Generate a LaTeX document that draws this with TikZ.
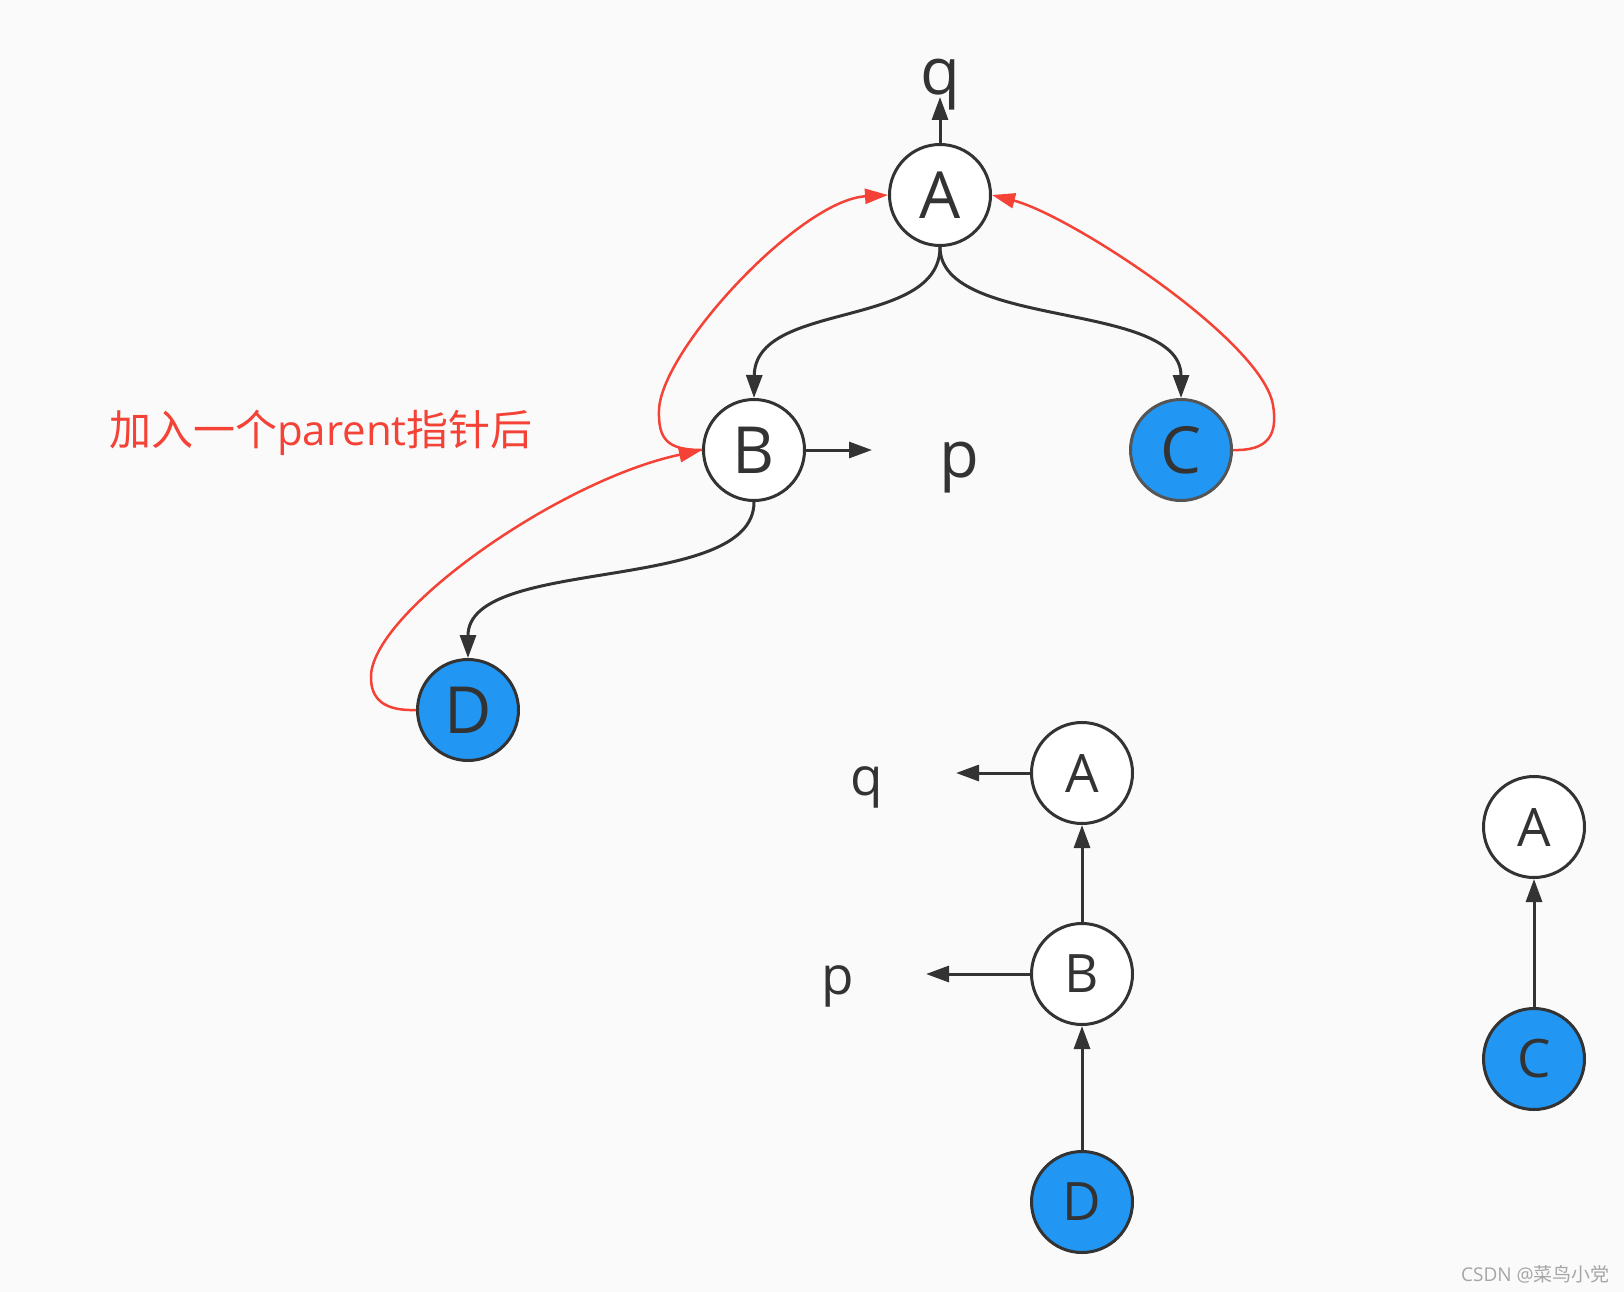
\documentclass[tikz,border=0pt]{standalone}
\usepackage{fontspec}
\setmainfont{Open Sans}
\newfontfamily\cjk{Noto Sans CJK SC}
\usetikzlibrary{arrows.meta}
\definecolor{bg}{HTML}{FAFAFA}
\definecolor{dk}{HTML}{333333}
\definecolor{cg}{HTML}{555555}
\definecolor{bl}{HTML}{2196F3}
\definecolor{rd}{HTML}{F44336}
\begin{document}
\begin{tikzpicture}[x=1pt,y=-1pt,
 nd/.style={circle, draw=dk, line width=3pt, fill=white, minimum size=101pt, inner sep=0pt, text=dk},
 big/.style={font=\fontsize{65}{65}\selectfont},
 small/.style={font=\fontsize{53}{53}\selectfont},
 bluefill/.style={fill=bl},
 edge/.style={draw=dk, line width=3pt, -{Triangle[length=23pt,width=16pt]}},
 redge/.style={draw=rd, line width=2.5pt, -{Triangle[length=23pt,width=15pt]}},
 lbl/.style={text=dk, inner sep=0pt}]
\fill[bg] (0,0) rectangle (1624,1292);
% top tree
\node[nd,big] (A) at (940,195) {A};
\node[nd,big] (B) at (754,450) {B};
\node[nd,big,bluefill,draw=cg] (C) at (1181,450) {C};
\node[nd,big,bluefill] (D) at (468,710) {D};
\node[lbl,big] (q1) at (940,85) {q};
\node[lbl,big] (p1) at (959,468) {p};
\coordinate (qtip) at (940,97);
\coordinate (ptip) at (872,450);
\draw[edge] (A.north) -- (qtip);
\draw[edge] (B.east) -- (ptip);
\draw[edge] (A.south) .. controls (940,330) and (755,300) .. (B.north);
\draw[edge] (A.south) .. controls (940,330) and (1181,300) .. (C.north);
\draw[edge] (B.south) .. controls (754,595) and (468,555) .. (D.north);
\draw[redge] (C.east) .. controls (1268,451) and (1278,435) .. (1273,405) .. controls (1262,340) and (1070,215) .. (A.east);
\draw[redge] (B.west) .. controls (668,450) and (658,440) .. (659,410) .. controls (661,350) and (800,200) .. (A.west);
\draw[redge] (D.west) .. controls (385,711) and (370,700) .. (371,675) .. controls (375,610) and (560,480) .. (B.west);
\node[text=rd, anchor=west, inner sep=0pt, font=\fontsize{42}{42}\selectfont] (note) at (109,433) {{\cjk 加入一个}parent{\cjk 指针后}};
% bottom chain
\node[nd,small] (A2) at (1082,773) {A};
\node[nd,small] (B2) at (1082,974) {B};
\node[nd,small,bluefill] (D2) at (1082,1202) {D};
\node[lbl,small] (q2) at (867,787) {q};
\node[lbl,small] (p2) at (838,986) {p};
\coordinate (q2tip) at (956,773);
\coordinate (p2tip) at (926,974);
\draw[edge] (A2.west) -- (q2tip);
\draw[edge] (B2.west) -- (p2tip);
\draw[edge] (B2.north) -- (A2.south);
\draw[edge] (D2.north) -- (B2.south);
% right pair
\node[nd,small] (A3) at (1534,827) {A};
\node[nd,small,bluefill] (C3) at (1534,1059) {C};
\draw[edge] (C3.north) -- (A3.south);
% watermark
\node[text=black!35, anchor=east, inner sep=0pt, font=\fontsize{19}{19}\selectfont] (wm) at (1610,1274) {CSDN @{\cjk 菜鸟小党}};
\end{tikzpicture}
\end{document}
